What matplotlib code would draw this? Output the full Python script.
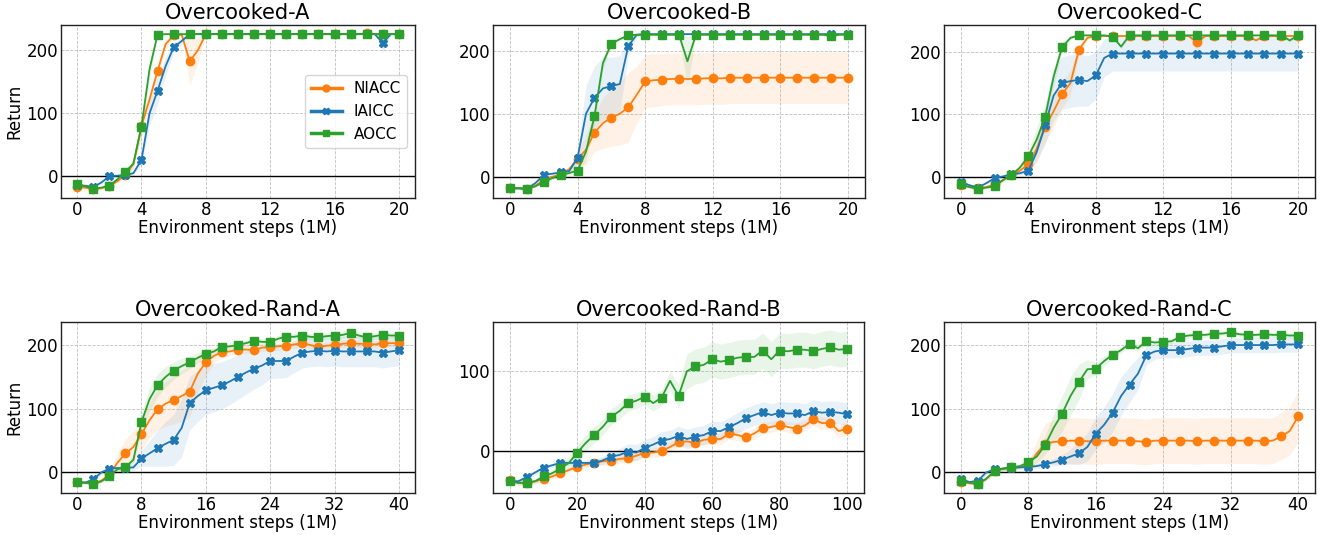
import numpy as np
import matplotlib
matplotlib.use("Agg")
import matplotlib.pyplot as plt
from matplotlib.lines import Line2D

# ---------------- data ----------------
titles = ["Overcooked-A", "Overcooked-B", "Overcooked-C",
          "Overcooked-Rand-A", "Overcooked-Rand-B", "Overcooked-Rand-C"]
methods = ["NIACC", "IAICC", "AOCC"]
xlabel_text = "Environment steps (1M)"
ylabel_text = "Return"

# Top row: x = 0, 0.5, ..., 20 (markers at integers)
top_x = [i * 0.5 for i in range(41)]

A_niacc = [-17, -18, -20, -19, -15, -8, 2, 20, 80, 122, 167, 210, 224, 225, 183, 200,
           226, 226, 226, 226, 226, 226, 226, 226, 226, 226, 226, 226, 226, 226, 226, 226,
           226, 226, 226, 226, 227, 226, 226, 226, 226]
A_niacc_sd = [3, 3, 2, 2, 2, 3, 3, 8, 15, 12, 10, 8, 3, 2, 38, 20,
              1, 1, 1, 1, 1, 1, 1, 1, 1, 1, 1, 1, 1, 1, 1, 1,
              1, 1, 1, 1, 1, 1, 1, 1, 1]
A_iaicc = [-14, -15, -17, -10, 0, 1, 2, 5, 26, 100, 136, 175, 205, 215, 226, 226,
           226, 226, 226, 226, 226, 226, 226, 226, 226, 226, 226, 226, 226, 226, 226, 226,
           226, 226, 226, 226, 226, 226, 212, 226, 226]
A_iaicc_sd = [2, 2, 2, 2, 2, 2, 2, 3, 8, 20, 22, 15, 8, 5, 1, 1,
              1, 1, 1, 1, 1, 1, 1, 1, 1, 1, 1, 1, 1, 1, 1, 1,
              1, 1, 1, 1, 1, 1, 15, 1, 1]
A_aocc = [-12, -16, -20, -18, -15, -5, 7, 20, 79, 170, 225, 226, 226, 226, 226, 226,
          226, 226, 226, 226, 226, 226, 226, 226, 226, 226, 226, 226, 226, 226, 226, 226,
          226, 226, 226, 226, 226, 226, 226, 226, 226]
A_aocc_sd = [2, 2, 2, 2, 2, 3, 5, 8, 12, 15, 2, 1, 1, 1, 1, 1,
             1, 1, 1, 1, 1, 1, 1, 1, 1, 1, 1, 1, 1, 1, 1, 1,
             1, 1, 1, 1, 1, 1, 1, 1, 1]

B_niacc = [-18, -18, -19, -14, -5, 0, 4, 12, 28, 43, 70, 85, 94, 100, 110, 130,
           151, 153, 154, 155, 155, 155, 155, 156, 156, 156, 157, 157, 157, 157, 157, 157,
           157, 157, 157, 157, 157, 157, 157, 157, 157]
B_niacc_sd = [2, 2, 2, 2, 3, 3, 3, 5, 8, 25, 30, 40, 45, 50, 55, 45,
              42, 42, 41, 41, 41, 41, 41, 41, 41, 41, 41, 41, 41, 41, 41, 41,
              41, 41, 41, 41, 41, 41, 41, 41, 41]
B_iaicc = [-18, -18, -19, -10, 3, 5, 7, 9, 30, 100, 125, 140, 144, 147, 207, 225,
           226, 226, 226, 226, 226, 226, 226, 226, 226, 226, 226, 226, 226, 226, 226, 226,
           226, 226, 226, 226, 226, 226, 226, 226, 226]
B_iaicc_sd = [2, 2, 2, 2, 2, 2, 3, 4, 10, 45, 50, 50, 45, 45, 15, 3,
              1, 1, 1, 1, 1, 1, 1, 1, 1, 1, 1, 1, 1, 1, 1, 1,
              1, 1, 1, 1, 1, 1, 1, 1, 1]
B_aocc = [-18, -18, -19, -15, -8, -2, 3, 6, 10, 40, 96, 180, 211, 218, 224, 225,
          225, 225, 225, 225, 225, 183, 225, 225, 225, 225, 225, 225, 225, 225, 225, 225,
          225, 225, 225, 225, 225, 225, 223, 225, 225]
B_aocc_sd = [2, 2, 2, 2, 3, 3, 3, 4, 5, 15, 12, 10, 5, 3, 2, 2,
             1, 1, 1, 1, 1, 40, 1, 1, 1, 1, 1, 1, 1, 1, 1, 1,
             1, 1, 1, 1, 1, 1, 2, 1, 1]

C_niacc = [-13, -16, -18, -16, -12, -5, 3, 10, 20, 45, 80, 105, 132, 150, 203, 222,
           225, 225, 225, 225, 225, 225, 225, 225, 225, 225, 225, 225, 215, 225, 225, 225,
           225, 225, 225, 218, 225, 225, 225, 225, 225]
C_niacc_sd = [2, 2, 2, 2, 2, 3, 3, 5, 10, 20, 25, 25, 22, 20, 8, 3,
              1, 1, 1, 1, 1, 1, 1, 1, 1, 1, 1, 1, 15, 1, 1, 1,
              1, 1, 1, 2, 1, 1, 1, 1, 1]
C_iaicc = [-8, -13, -17, -10, -2, 1, 4, 6, 10, 40, 83, 130, 150, 153, 155, 153,
           162, 190, 197, 197, 197, 197, 197, 197, 197, 197, 197, 197, 197, 197, 197, 197,
           197, 197, 197, 197, 197, 197, 197, 197, 197]
C_iaicc_sd = [2, 2, 2, 2, 2, 2, 2, 3, 5, 15, 30, 40, 42, 42, 42, 40,
              38, 30, 28, 28, 28, 28, 28, 28, 28, 28, 28, 28, 28, 28, 28, 28,
              28, 28, 28, 28, 28, 28, 28, 28, 28]
C_aocc = [-12, -16, -19, -17, -15, -5, 3, 15, 33, 60, 96, 160, 207, 222, 226, 226,
          226, 226, 224, 208, 226, 226, 226, 226, 226, 226, 226, 226, 226, 226, 226, 226,
          226, 226, 226, 226, 226, 226, 226, 218, 226]
C_aocc_sd = [2, 2, 2, 2, 2, 3, 3, 5, 8, 20, 20, 15, 8, 3, 1, 1,
             1, 1, 1, 3, 1, 1, 1, 1, 1, 1, 1, 1, 1, 1, 1, 1,
             1, 1, 1, 1, 1, 1, 1, 3, 1]

# Rand-A / Rand-C: x = 0..40 (markers every 2)
randAC_x = list(range(41))

RA_niacc = [-15, -16, -17, -13, -3, 15, 30, 40, 60, 82, 99, 108, 114, 120, 127, 155,
            173, 183, 189, 190, 193, 193, 192, 196, 197, 198, 199, 201, 203, 200, 197, 199,
            200, 202, 203, 202, 202, 201, 203, 203, 203]
RA_niacc_sd = [2, 2, 2, 3, 6, 15, 22, 25, 25, 28, 32, 35, 38, 40, 40, 30,
               20, 12, 8, 7, 6, 6, 6, 6, 6, 6, 6, 6, 6, 6, 6, 6,
               6, 6, 6, 6, 6, 6, 6, 6, 6]
RA_iaicc = [-15, -16, -11, 0, 6, 7, 7, 8, 22, 30, 38, 45, 51, 70, 109, 120,
            129, 133, 137, 143, 150, 157, 163, 168, 175, 175, 175, 182, 188, 190, 191, 190,
            191, 190, 190, 190, 190, 190, 188, 190, 192]
RA_iaicc_sd = [2, 2, 3, 3, 3, 3, 3, 5, 12, 20, 28, 35, 40, 45, 42, 40,
               38, 38, 37, 36, 35, 34, 32, 30, 28, 27, 26, 25, 24, 24, 24, 24,
               24, 24, 24, 24, 24, 24, 24, 24, 24]
RA_aocc = [-15, -16, -18, -14, -6, 5, 8, 20, 79, 115, 137, 150, 160, 167, 173, 180,
           186, 190, 197, 198, 200, 203, 207, 205, 205, 210, 213, 213, 215, 213, 212, 214,
           215, 216, 219, 215, 212, 214, 216, 215, 215]
RA_aocc_sd = [2, 2, 2, 2, 3, 3, 3, 8, 15, 18, 18, 16, 14, 12, 10, 8,
              7, 6, 6, 5, 5, 5, 5, 5, 5, 5, 5, 5, 5, 5, 5, 5,
              5, 5, 5, 5, 5, 5, 5, 5, 5]

RC_niacc = [-15, -17, -18, -10, 2, 6, 8, 9, 10, 30, 45, 48, 49, 50, 50, 49,
            49, 50, 50, 50, 50, 49, 48, 50, 50, 50, 50, 50, 49, 50, 50, 50,
            50, 50, 50, 50, 49, 50, 57, 65, 88]
RC_niacc_sd = [2, 2, 2, 3, 3, 3, 3, 3, 5, 20, 32, 35, 36, 36, 36, 36,
               36, 36, 36, 36, 36, 36, 36, 36, 36, 36, 36, 36, 36, 36, 36, 36,
               36, 36, 36, 36, 36, 36, 37, 38, 40]
RC_iaicc = [-10, -15, -13, 0, 5, 6, 7, 8, 9, 10, 13, 16, 20, 25, 30, 40,
            61, 75, 94, 120, 138, 155, 184, 190, 192, 192, 192, 194, 196, 196, 196, 198,
            200, 200, 200, 200, 200, 200, 201, 201, 201]
RC_iaicc_sd = [2, 2, 2, 3, 3, 3, 3, 3, 3, 4, 5, 6, 8, 12, 18, 22,
               25, 28, 30, 30, 28, 25, 15, 12, 12, 12, 12, 12, 12, 12, 12, 12,
               12, 12, 12, 12, 12, 12, 12, 12, 12]
RC_aocc = [-14, -16, -18, -10, 2, 6, 8, 10, 16, 25, 43, 70, 92, 120, 142, 162,
           163, 175, 185, 192, 202, 195, 206, 204, 205, 206, 213, 215, 216, 216, 218, 218,
           220, 217, 216, 216, 217, 216, 216, 215, 215]
RC_aocc_sd = [2, 2, 2, 3, 3, 3, 3, 3, 5, 10, 15, 22, 28, 30, 28, 15,
              10, 8, 6, 5, 5, 5, 5, 4, 4, 4, 4, 4, 4, 4, 4, 4,
              4, 4, 4, 4, 4, 4, 4, 4, 4]

# Rand-B: x = 0, 2.5, ..., 100 (markers every 5)
randB_x = [i * 2.5 for i in range(41)]

RB_niacc = [-37, -40, -40, -38, -35, -32, -28, -24, -20, -17, -15, -13, -12, -10, -9, -6,
            -2, -2, 0, 5, 11, 12, 10, 14, 15, 15, 22, 20, 17, 22, 29, 30,
            33, 30, 28, 32, 40, 35, 35, 25, 28]
RB_niacc_sd = [3, 3, 3, 3, 3, 3, 3, 3, 4, 4, 4, 5, 5, 5, 6, 6,
               6, 6, 6, 6, 6, 6, 6, 6, 7, 7, 7, 7, 7, 7, 7, 7,
               7, 7, 7, 7, 8, 8, 8, 8, 8]
RB_iaicc = [-38, -38, -33, -27, -21, -18, -15, -15, -15, -15, -15, -12, -7, -5, -1, -2,
            4, 8, 13, 15, 19, 15, 18, 20, 25, 25, 30, 35, 41, 45, 49, 45,
            48, 47, 47, 45, 50, 48, 49, 48, 46]
RB_iaicc_sd = [3, 3, 3, 3, 3, 3, 3, 3, 3, 4, 4, 5, 6, 8, 10, 10,
               10, 10, 11, 11, 12, 12, 12, 12, 12, 12, 12, 13, 13, 13, 13, 14,
               14, 14, 14, 14, 14, 14, 14, 14, 14]
RB_aocc = [-38, -40, -40, -38, -32, -28, -22, -15, -2, 10, 20, 30, 43, 50, 60, 63,
           68, 60, 67, 88, 69, 100, 106, 108, 115, 112, 114, 117, 118, 118, 126, 115,
           126, 125, 127, 127, 125, 128, 130, 127, 128]
RB_aocc_sd = [3, 3, 3, 3, 4, 5, 6, 8, 10, 10, 10, 10, 10, 10, 10, 10,
              10, 10, 10, 12, 15, 22, 22, 22, 22, 22, 22, 22, 22, 22, 22, 22,
              22, 22, 22, 22, 22, 22, 22, 22, 22]

panel_x = [top_x, top_x, top_x, randAC_x, randB_x, randAC_x]
panel_means = [
    [A_niacc, A_iaicc, A_aocc],
    [B_niacc, B_iaicc, B_aocc],
    [C_niacc, C_iaicc, C_aocc],
    [RA_niacc, RA_iaicc, RA_aocc],
    [RB_niacc, RB_iaicc, RB_aocc],
    [RC_niacc, RC_iaicc, RC_aocc],
]
panel_sds = [
    [A_niacc_sd, A_iaicc_sd, A_aocc_sd],
    [B_niacc_sd, B_iaicc_sd, B_aocc_sd],
    [C_niacc_sd, C_iaicc_sd, C_aocc_sd],
    [RA_niacc_sd, RA_iaicc_sd, RA_aocc_sd],
    [RB_niacc_sd, RB_iaicc_sd, RB_aocc_sd],
    [RC_niacc_sd, RC_iaicc_sd, RC_aocc_sd],
]
marker_step = [1, 1, 1, 2, 5, 2]
xticks = [[0, 4, 8, 12, 16, 20]] * 3 + [[0, 8, 16, 24, 32, 40], [0, 20, 40, 60, 80, 100], [0, 8, 16, 24, 32, 40]]
yticks = [[0, 100, 200]] * 4 + [[0, 100], [0, 100, 200]]

# ---------------- style ----------------
colors = ["#ff7f0e", "#1f77b4", "#2ca02c"]
markers = ["o", "X", "s"]

W, H = 1323, 535
fig = plt.figure(figsize=(W / 100, H / 100), dpi=100)

# axes boxes in pixels (left, top, right, bottom)
boxes = [
    (61, 25, 415, 198), (493, 25, 865, 198), (944, 25, 1315, 198),
    (61, 322, 415, 493), (493, 322, 864, 493), (944, 322, 1315, 493),
]

for k in range(6):
    l, t, r, b = boxes[k]
    ax = fig.add_axes([l / W, 1 - b / H, (r - l) / W, (b - t) / H])
    x = np.array(panel_x[k], dtype=float)
    marks = [i for i, v in enumerate(panel_x[k]) if abs(v / marker_step[k] - round(v / marker_step[k])) < 1e-9]
    for m in range(3):
        y = np.array(panel_means[k][m], dtype=float)
        sd = np.array(panel_sds[k][m], dtype=float)
        ax.fill_between(x, y - sd, y + sd, color=colors[m], alpha=0.1, linewidth=0)
        ax.plot(x, y, color=colors[m], marker=markers[m], markevery=marks,
                markersize=6, linewidth=1.3, label=methods[m])
    ax.axhline(0, color="black", linewidth=1.0, zorder=1)
    ax.set_title(titles[k], fontsize=15, pad=4)
    ax.set_xticks(xticks[k])
    ax.set_yticks(yticks[k])
    ax.tick_params(axis="x", labelsize=12, length=0, pad=2.5)
    ax.tick_params(axis="y", labelsize=12, length=0, pad=2)
    ax.grid(True, linestyle="--", linewidth=0.6, color="#b0b0b0", alpha=0.8)
    ax.set_axisbelow(True)
    for s in ax.spines.values():
        s.set_color("#222222")
        s.set_linewidth(1.0)
    ax.set_xlabel(xlabel_text, fontsize=12, labelpad=0)
    if k in (0, 3):
        ax.set_ylabel(ylabel_text, fontsize=12, labelpad=2)
    if k == 0:
        handles = [Line2D([], [], color=colors[m], marker=markers[m], lw=2.5, markersize=5,
                          label=methods[m]) for m in range(3)]
        ax.legend(handles=handles, loc="center right", fontsize=11)

fig.savefig("out.png", dpi=100)
